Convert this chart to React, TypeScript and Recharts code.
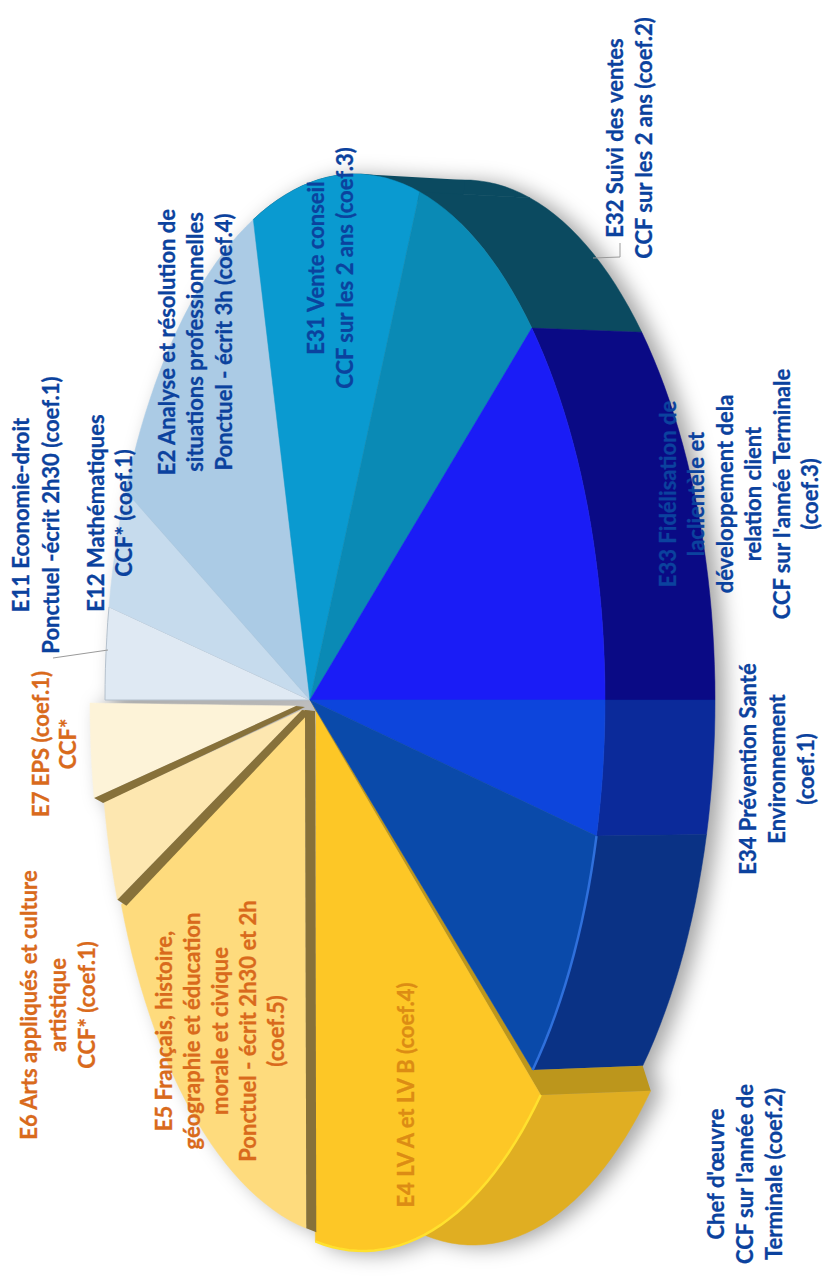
import { PieChart, Pie } from "recharts";

// epreuves, read clockwise from the left edge of the disc
const names = ["E11", "E12", "E2", "E31", "E32", "E33", "E34", "Chef", "E4", "E5", "E6", "E7"];
// visible angular share of each slice, in degrees
const shares = [10.2, 13.2, 42.6, 39, 30, 45, 15, 29.7, 56.3, 57.5, 11.1, 10.4];

const topColors = ["#dfe9f3", "#c6dbed", "#abcbe5", "#0a9ad0", "#0a8ab5", "#1a1cf6", "#0d45dc", "#0a4aaa", "#fdc726", "#fedb7d", "#fde7b0", "#fdf3d8"];
const wallColors = ["", "", "", "#0b4a60", "#0b4a60", "#0a0a85", "#0b2a9a", "#0a3285", "#e0ae22", "", "", ""];

const data = names.map((name, i) => ({ name, value: shares[i] }));

const BLUE = "#0b429e";
const ORANGE = "#d96a1c";

const labels = [
  { x: 20, y: 515, color: BLUE, lines: ["E11 Economie-droit", "Ponctuel -écrit 2h30 (coef.1)"], step: 30 },
  { x: 95, y: 513, color: BLUE, lines: ["E12 Mathématiques", "CCF* (coef.1)"], step: 28 },
  { x: 166, y: 342, color: BLUE, lines: ["E2 Analyse et résolution de", "situations professionnelles", "Ponctuel - écrit 3h (coef.4)"], step: 28.5 },
  { x: 315, y: 268, color: BLUE, lines: ["E31 Vente conseil", "CCF sur les 2 ans (coef.3)"], step: 29 },
  { x: 614, y: 138, color: BLUE, lines: ["E32 Suivi des ventes", "CCF sur les 2 ans (coef.2)"], step: 29 },
  { x: 667, y: 494, color: BLUE, lines: ["E33 Fidélisation de", "laclientèle et", "développement dela", "relation client", "CCF sur l'année Terminale", "(coef.3)"], step: 28.5 },
  { x: 747, y: 769, color: BLUE, lines: ["E34 Prévention Santé", "Environnement", "(coef.1)"], step: 29 },
  { x: 715, y: 1174, color: BLUE, lines: ["Chef d'œuvre", "CCF sur l'année de", "Terminale (coef.2)"], step: 29 },
  { x: 405, y: 1095, color: "#dc8c14", lines: ["E4 LV A et LV B (coef.4)"], step: 28 },
  { x: 163, y: 1031, color: ORANGE, lines: ["E5 Français, histoire,", "géographie et éducation", "morale et civique", "Ponctuel - écrit 2h30 et 2h", "(coef.5)"], step: 28 },
  { x: 28, y: 1005, color: ORANGE, lines: ["E6 Arts appliqués et culture", "artistique", "CCF* (coef.1)"], step: 29 },
  { x: 40, y: 744, color: ORANGE, lines: ["E7 EPS (coef.1)", "CCF*"], step: 27 },
];

const SQUASH = 250 / 526;
const DEPTH = 110;
const WALL_RY = 520 / 526;

// where each slice's ellipse and tip sit, for the pulled-out yellow pieces
const pieces: Record<string, { dx: number; dy: number; tipX: number; tipY: number }> = {
  E4: { dx: 8, dy: 25, tipX: -47, tipY: -13 },
  E5: { dx: -1, dy: 12, tipX: -49, tipY: -2 },
  E6: { dx: -5, dy: 7, tipX: -48, tipY: 3 },
  E7: { dx: -15, dy: 3, tipX: -44, tipY: 3 },
};
const mainPiece = { dx: 0, dy: 0, tipX: -45, tipY: 0 };

const rimColors: Record<string, string> = { Chef: "#2f70dc", E4: "#ffe12e" };
const cuts: Record<string, number[]> = { E5: [10, 4], E6: [9, 6], E7: [9, 5] };

const point = (cx: number, cy: number, rx: number, ry: number, deg: number) => {
  const a = (deg * Math.PI) / 180;
  return [cx + rx * Math.cos(a), cy - ry * Math.sin(a)];
};

const arc = (cx: number, cy: number, rx: number, ry: number, from: number, to: number) => {
  const out: number[][] = [];
  const n = Math.max(2, Math.ceil(Math.abs(to - from) / 2));
  for (let i = 0; i <= n; i++) out.push(point(cx, cy, rx, ry, from + ((to - from) * i) / n));
  return out;
};

const toPath = (pts: number[][]) =>
  "M" + pts.map((p) => `${p[0].toFixed(1)},${p[1].toFixed(1)}`).join("L") + "Z";

const TopShape = (props: any) => {
  const { cx, cy, outerRadius: r, startAngle, endAngle, name } = props;
  const i = names.indexOf(name);
  const p = pieces[name] || mainPiece;
  const ex = cx + p.dx;
  const ey = cy + p.dy;
  const tip = [ex + p.tipX, ey + p.tipY];
  const rim = arc(ex, ey, r * SQUASH, r, startAngle, endAngle);
  const cut = cuts[name];
  return (
    <g>
      <path d={toPath([tip, ...rim])} fill={topColors[i]} stroke={name === "E11" ? "#b4c0cc" : topColors[i]} strokeWidth={name === "E11" ? 1 : 0.5} />
      {cut && (
        <path
          d={toPath([tip, rim[0], [rim[0][0] + cut[0], rim[0][1] + cut[1]], [tip[0] + cut[0], tip[1] + 1]])}
          fill="#87713a"
        />
      )}
      {rimColors[name] && (
        <path
          d={"M" + rim.map((q) => q.join(",")).join("L")}
          fill="none"
          stroke={rimColors[name]}
          strokeWidth={2.5}
        />
      )}
    </g>
  );
};

const WallShape = (props: any) => {
  const { cx, cy, outerRadius: r, startAngle, endAngle, name } = props;
  const i = names.indexOf(name);
  if (!wallColors[i]) return <g />;
  const p = pieces[name] || mainPiece;
  const ex = cx + p.dx;
  const ey = cy + p.dy;
  const rx = r * SQUASH;
  const inner = arc(ex, ey, rx, r, startAngle, endAngle);
  const outer = arc(ex + DEPTH, ey, rx, r * WALL_RY, endAngle, startAngle);
  let strip = null;
  if (name === "E4") {
    // side face showing where the yellow piece was pulled away from the blue one
    const blueEnd = point(cx, cy, rx, r, startAngle);
    const blueOuter = point(cx + DEPTH, cy, rx, r * WALL_RY, startAngle);
    const tip = [ex + p.tipX, ey + p.tipY];
    strip = (
      <path
        d={toPath([tip, inner[0], outer[outer.length - 1], blueOuter, blueEnd, [cx + mainPiece.tipX, cy]])}
        fill="#bc961c"
      />
    );
  }
  if (name === "E31") {
    // closes the notch between the top ellipse and the wall's far edge
    strip = (
      <path
        d={toPath([point(ex, ey, rx, r, 88), point(ex + DEPTH, ey, rx, r * WALL_RY, 90), point(ex, ey, rx, r, 65)])}
        fill={wallColors[i]}
      />
    );
  }
  return (
    <g>
      <path d={toPath([...inner, ...outer])} fill={wallColors[i]} stroke={wallColors[i]} strokeWidth={0.5} />
      {strip}
    </g>
  );
};

export default function App() {
  return (
    <div style={{ position: "absolute", left: 0, top: 0, width: 822, height: 1280, background: "#fff", overflow: "hidden" }}>
      <div style={{ position: "absolute", left: 0, top: 0, filter: "drop-shadow(10px 2px 10px rgba(0,0,0,0.35))" }}>
        <PieChart width={822} height={1280} margin={{ top: 0, right: 0, bottom: 0, left: 0 }}>
          <Pie
            data={data}
            dataKey="value"
            nameKey="name"
            cx={355}
            cy={700}
            outerRadius={526}
            startAngle={180}
            endAngle={-180}
            stroke="none"
            shape={WallShape}
            isAnimationActive={false}
          />
          <Pie
            data={data}
            dataKey="value"
            nameKey="name"
            cx={355}
            cy={700}
            outerRadius={526}
            startAngle={180}
            endAngle={-180}
            stroke="none"
            shape={TopShape}
            isAnimationActive={false}
          />
        </PieChart>
      </div>
      <svg width={822} height={1280} style={{ position: "absolute", left: 0, top: 0 }}>
        <path d="M53,658L108,650" stroke="#9a9a9a" strokeWidth={1} fill="none" />
        <path d="M593,258L620,257L620,243" stroke="#9a9a9a" strokeWidth={1} fill="none" />
        {labels.map((block) =>
          block.lines.map((line, i) => {
            const x = block.x + i * block.step;
            return (
              <text
                key={line + block.x}
                x={x}
                y={block.y}
                transform={`rotate(-90 ${x} ${block.y})`}
                textAnchor="middle"
                dominantBaseline="central"
                fontFamily="Lato"
                fontWeight={700}
                fontSize={22}
                fill={block.color}
                stroke={block.color}
                strokeWidth={0.3}
              >
                {line}
              </text>
            );
          })
        )}
      </svg>
    </div>
  );
}
